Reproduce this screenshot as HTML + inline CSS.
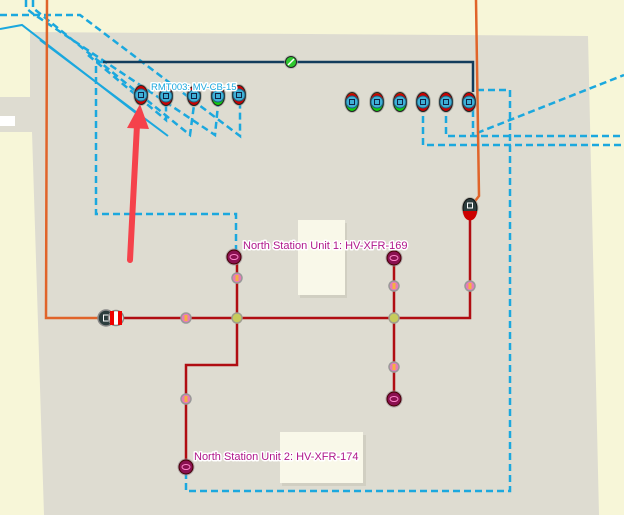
<!DOCTYPE html>
<html><head><style>
html,body{margin:0;padding:0;background:#f7f6d8;}
svg{display:block;}
text{font-family:"Liberation Sans",sans-serif;font-size:10px;paint-order:stroke;stroke:#fff;stroke-width:3px;stroke-linejoin:round;}
</style></head><body>
<svg width="624" height="515" viewBox="0 0 624 515" xmlns="http://www.w3.org/2000/svg">
<defs>
<g id="brk">
<ellipse cx="0" cy="0" rx="8" ry="11" fill="#9a9a90" opacity="0.6"/>
<ellipse cx="0" cy="0" rx="6.5" ry="9.5" fill="#c00" stroke="#222" stroke-width="1"/>
<circle cx="0" cy="0" r="6" fill="#3fb0d6" stroke="#1c5f7a" stroke-width="1"/>
<rect x="-2.5" y="-2.5" width="5" height="5" fill="none" stroke="#124" stroke-width="1"/>
</g>
<g id="brkg">
<ellipse cx="0" cy="0" rx="8" ry="11" fill="#9a9a90" opacity="0.6"/>
<ellipse cx="0" cy="0" rx="6.5" ry="9.5" fill="#1c1" stroke="#222" stroke-width="1"/>
<path d="M-6,-3 A6.5,9.5 0 0 1 6,-3 Z" fill="#c00"/>
<circle cx="0" cy="0" r="6" fill="#3fb0d6" stroke="#1c5f7a" stroke-width="1"/>
<rect x="-2.5" y="-2.5" width="5" height="5" fill="none" stroke="#124" stroke-width="1"/>
</g>
<g id="fuse"><circle r="5" fill="#e87ab8" stroke="#999" stroke-width="1.5"/><rect x="-1.5" y="-3" width="3" height="6" fill="#f5b040"/></g>
<g id="junc"><circle r="5" fill="#c6cc5c" stroke="#a0a090" stroke-width="1.5"/></g>
<g id="xfr"><circle r="8.5" fill="#9a8a94" opacity="0.7"/><circle r="7" fill="#8a1050" stroke="#400" stroke-width="1"/><ellipse rx="4" ry="2.5" fill="none" stroke="#f8c" stroke-width="1"/></g>
</defs>
<polygon points="30,32 588,36 599,515 44,515 32,132 0,132 0,97 30,97" fill="#dedcd1"/>
<rect x="0" y="116" width="15" height="10" fill="#fff"/>
<rect x="300" y="223" width="47" height="75" fill="#c8c6b8" opacity="0.6"/>
<rect x="298" y="220" width="47" height="75" fill="#f9f8e9"/>
<rect x="282" y="435" width="84" height="51" fill="#c8c6b8" opacity="0.6"/>
<rect x="280" y="432" width="83" height="51" fill="#f9f8e9"/>
<g fill="none" stroke="#1ba8de" stroke-width="2">
<polyline points="0,29 22,25 145,120"/>
<polyline points="40,40 168,136"/>
</g>
<g fill="none" stroke="#1ba8de" stroke-width="2.5" stroke-dasharray="7,4">
<polyline points="0,15 80,15 240,136 240,105"/>
<polyline points="26,0 26,8 32,13 215,135 218,105"/>
<polyline points="33,0 33,8 38,12 190,135 194,105"/>
<polyline points="88,55 166,120 166,105"/>
<polyline points="103,62 96,62 96,214 236,214 236,250"/>
<polyline points="423,105 423,145 624,145"/>
<polyline points="446,105 446,136 624,136"/>
<polyline points="473,110 473,136"/>
<polyline points="477,133 624,75"/>
<polyline points="477,90 510,90 510,491 186,491 186,470"/>
</g>
<polyline points="103,62 473,62 473,92" fill="none" stroke="#123c5c" stroke-width="2.5"/>
<g fill="none" stroke="#e0642a" stroke-width="2.5">
<polyline points="47,0 46,318 102,318"/>
<polyline points="476,0 479,196 472,205"/>
</g>
<g fill="none" stroke="#b00d12" stroke-width="2.5">
<polyline points="118,318 470,318 470,210"/>
<polyline points="237,257 237,365 186,365 186,467"/>
<polyline points="394,258 394,399"/>
</g>
<circle cx="291" cy="62" r="7" fill="#aaa" opacity="0.6"/>
<circle cx="291" cy="62" r="5.5" fill="#2ec82e" stroke="#222"/>
<line x1="288" y1="65" x2="294" y2="59" stroke="#fff" stroke-width="1.5"/>
<use href="#brk" x="141" y="95"/>
<use href="#brk" x="166" y="96"/>
<use href="#brk" x="194" y="96"/>
<use href="#brkg" x="218" y="96"/>
<use href="#brk" x="239" y="95"/>
<use href="#brkg" x="352" y="102"/>
<use href="#brkg" x="377" y="102"/>
<use href="#brkg" x="400" y="102"/>
<use href="#brk" x="423" y="102"/>
<use href="#brk" x="446" y="102"/>
<use href="#brk" x="469" y="102"/>
<ellipse cx="470" cy="208" rx="8.5" ry="11" fill="#9a9a90" opacity="0.6"/>
<ellipse cx="470" cy="208" rx="7" ry="9.5" fill="#2c3d3d" stroke="#111"/>
<path d="M463,211 A7,9.5 0 0 0 477,211 Z" fill="#c00"/>
<rect x="467.5" y="203" width="5" height="5" fill="none" stroke="#fff"/>
<circle cx="106" cy="318" r="8" fill="#2c3d3d" stroke="#888" stroke-width="1.5"/>
<rect x="103.5" y="315" width="5" height="6" fill="none" stroke="#fff"/>
<circle cx="116" cy="318" r="7.5" fill="#fff" stroke="#888" stroke-width="1.5"/>
<rect x="110" y="311" width="4" height="14" fill="#e00"/>
<rect x="118" y="311" width="4" height="14" fill="#e00"/>
<use href="#fuse" x="186" y="318"/>
<use href="#fuse" x="237" y="278"/>
<use href="#fuse" x="394" y="286"/>
<use href="#fuse" x="470" y="286"/>
<use href="#fuse" x="186" y="399"/>
<use href="#fuse" x="394" y="367"/>
<use href="#junc" x="237" y="318"/>
<use href="#junc" x="394" y="318"/>
<use href="#xfr" x="234" y="257"/>
<use href="#xfr" x="394" y="258"/>
<use href="#xfr" x="394" y="399"/>
<use href="#xfr" x="186" y="467"/>
<line x1="130" y1="260" x2="137" y2="125" stroke="#f5424b" stroke-width="6" stroke-linecap="round"/>
<polygon points="140,104 127,128 149,129" fill="#f5424b"/>
<text x="151" y="90" fill="#1ba8de" style="font-size:9.5px">RMT003: MV-CB-15</text>
<text x="243" y="249" fill="#b0188c" style="font-size:11px">North Station Unit 1: HV-XFR-169</text>
<text x="194" y="460" fill="#b0188c" style="font-size:11px">North Station Unit 2: HV-XFR-174</text>
</svg>
</body></html>
